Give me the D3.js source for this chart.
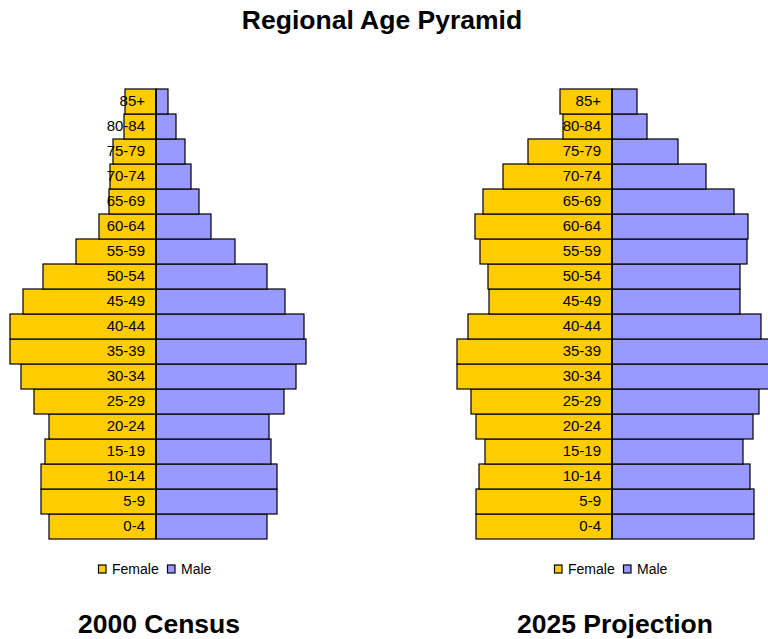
<!DOCTYPE html>
<html>
<head>
<meta charset="utf-8">
<script src="https://cdn.jsdelivr.net/npm/d3@7"></script>
<style>
  html, body { margin: 0; padding: 0; background: #fff; }
  svg { display: block; font-family: "Liberation Sans", Arial, Helvetica, sans-serif; }
</style>
</head>
<body>
<svg id="chart" width="768" height="639"></svg>
<script>
// ---- Data ----
const ageGroups = ["0-4","5-9","10-14","15-19","20-24","25-29","30-34","35-39","40-44","45-49","50-54","55-59","60-64","65-69","70-74","75-79","80-84","85+"];

const female2000 = [107, 115, 115, 111, 107, 122, 135, 146, 146, 133, 113, 80, 57, 47, 46, 43, 32, 31];
const male2000   = [111, 121, 121, 115, 113, 128, 140, 150, 148, 129, 111, 79, 55, 43, 35, 29, 20, 12];

const female2025 = [136, 136, 133, 127, 136, 141, 155, 155, 144, 123, 124, 132, 137, 129, 109, 84, 49, 52];
const male2025   = [142, 142, 138, 131, 141, 147, 158, 158, 149, 128, 128, 135, 136, 122, 94, 66, 35, 25];

const seriesNames = ["Female", "Male"];
const seriesColors = ["#FFCC00", "#9999FF"];

const chartTitle = "Regional Age Pyramid";
const panelTitles = ["2000 Census", "2025 Projection"];

// ---- Drawing ----
const svg = d3.select("#chart");

svg.append("text")
  .attr("x", 382).attr("y", 29)
  .attr("text-anchor", "middle")
  .attr("font-size", 26.5).attr("font-weight", "bold")
  .attr("fill", "#000")
  .text(chartTitle);

const y = d3.scaleBand()
  .domain(ageGroups.slice().reverse())
  .range([89, 539])
  .padding(0);

function drawPyramid(center, female, male, title) {
  const g = svg.append("g");
  const xL = d3.scaleLinear().domain([0, 160]).range([center, center - 160]);
  const xR = d3.scaleLinear().domain([0, 160]).range([center, center + 160]);

  const rows = ageGroups.map((a, i) => ({ age: a, f: female[i], m: male[i] }));

  g.selectAll("rect.female").data(rows).join("rect")
    .attr("class", "female")
    .attr("x", d => xL(d.f))
    .attr("y", d => y(d.age))
    .attr("width", d => xL(0) - xL(d.f))
    .attr("height", y.bandwidth())
    .attr("fill", seriesColors[0])
    .attr("stroke", "#000").attr("stroke-width", 1.2);

  g.selectAll("rect.male").data(rows).join("rect")
    .attr("class", "male")
    .attr("x", xR(0))
    .attr("y", d => y(d.age))
    .attr("width", d => xR(d.m) - xR(0))
    .attr("height", y.bandwidth())
    .attr("fill", seriesColors[1])
    .attr("stroke", "#000").attr("stroke-width", 1.2);

  g.append("line")
    .attr("x1", center).attr("x2", center)
    .attr("y1", y.range()[0]).attr("y2", y.range()[1])
    .attr("stroke", "#000").attr("stroke-width", 2);

  g.selectAll("text.age").data(rows).join("text")
    .attr("class", "age")
    .attr("x", center - 11)
    .attr("y", d => y(d.age) + y.bandwidth() / 2 + 4.8)
    .attr("text-anchor", "end")
    .attr("font-size", 15)
    .attr("fill", "#000")
    .text(d => d.age);

  // legend
  const lg = g.append("g");
  const legendItems = [
    { name: seriesNames[0], color: seriesColors[0], dx: -57.5 },
    { name: seriesNames[1], color: seriesColors[1], dx: 11.5 }
  ];
  legendItems.forEach(it => {
    lg.append("rect")
      .attr("x", center + it.dx).attr("y", 565)
      .attr("width", 7.5).attr("height", 8)
      .attr("fill", it.color)
      .attr("stroke", "#000").attr("stroke-width", 1.2);
    lg.append("text")
      .attr("x", center + it.dx + 13.5).attr("y", 574)
      .attr("font-size", 14)
      .attr("fill", "#000")
      .text(it.name);
  });

  svg.append("text")
    .attr("x", center + 3).attr("y", 633)
    .attr("text-anchor", "middle")
    .attr("font-size", 26.5).attr("font-weight", "bold")
    .attr("fill", "#000")
    .text(title);
}

drawPyramid(156, female2000, male2000, panelTitles[0]);
drawPyramid(612, female2025, male2025, panelTitles[1]);
</script>
</body>
</html>
